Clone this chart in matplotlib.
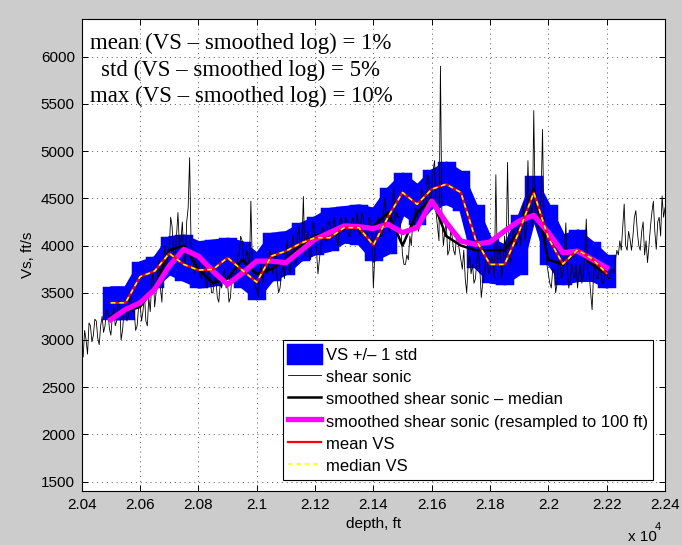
import numpy as np
import matplotlib
matplotlib.use("Agg")
import matplotlib.pyplot as plt

# raw shear sonic log, every 5 ft from 20400 to 22400
depth_log = np.arange(20400, 22401, 5)
vs_log = [
    2950, 2820, 3100, 3000, 2850, 3180, 3150, 2980, 3050, 3220,
    3200, 3020, 2950, 3150, 3250, 3080, 3150, 3320, 3300, 3120,
    3050, 3250, 3350, 3150, 3200, 3420, 3400, 3000, 3100, 3300,
    3350, 3200, 3250, 3500, 3450, 3300, 3300, 3100, 3150, 3350,
    3400, 3200, 3300, 3500, 3200, 3150, 3450, 3300, 3600, 3750,
    3350, 3500, 3700, 3850, 3550, 3400, 3850, 4000, 3700, 3900,
    3950, 4300, 4200, 3850, 3800, 4100, 4350, 4000, 4050, 4250,
    3900, 3800, 4250, 4400, 4930, 4000, 3950, 3700, 3800, 3900,
    3900, 3700, 3650, 3850, 3800, 3600, 3550, 3750, 3700, 3500,
    3500, 3650, 3650, 3450, 3400, 3600, 3550, 3700, 3750, 3550,
    3600, 3400, 3450, 3700, 3750, 3600, 3700, 3900, 3900, 4100,
    4050, 3850, 3800, 3950, 3900, 3750, 4470, 3800, 3700, 3550,
    3550, 3450, 3700, 3800, 3600, 3750, 3850, 3700, 3750, 3950,
    3900, 3700, 3800, 3950, 3650, 3500, 3550, 3700, 3800, 3650,
    3900, 4050, 3750, 3700, 4000, 4100, 3850, 3800, 4100, 4200,
    3950, 4000, 4520, 3900, 4050, 4150, 3900, 3850, 4150, 4250,
    4100, 3950, 3700, 3850, 4000, 4200, 4150, 4050, 4050, 4250,
    4250, 4100, 4100, 4300, 4200, 4050, 4000, 4250, 4300, 4150,
    4150, 4300, 4250, 4100, 4100, 4250, 4300, 4150, 4200, 4350,
    4150, 4100, 4350, 4300, 4200, 4050, 4100, 4300, 4250, 4150,
    3550, 3900, 4150, 4300, 4250, 4100, 4100, 4350, 4500, 4300,
    4300, 4150, 4200, 4450, 4600, 4250, 4350, 4300, 4300, 4150,
    3900, 3800, 3800, 3900, 3850, 4100, 4000, 4250, 4200, 4400,
    4350, 4150, 4250, 4600, 4550, 4300, 4450, 4750, 4700, 4400,
    4600, 4800, 4900, 4350, 4200, 4050, 5900, 4300, 4000, 4150,
    4250, 3900, 3950, 4150, 4100, 3950, 3900, 4100, 4050, 3950,
    3850, 3750, 3950, 3650, 3500, 3800, 3900, 3700, 3800, 3600,
    3650, 3850, 3950, 3750, 3450, 3600, 3700, 3850, 3900, 3700,
    3750, 3900, 3850, 3650, 4750, 3800, 3900, 4000, 3650, 3800,
    4100, 3850, 4880, 4000, 3800, 3950, 4200, 4050, 4000, 4200,
    4150, 4000, 4300, 4450, 4050, 4200, 4900, 4300, 4400, 4200,
    5430, 4350, 4300, 4150, 4350, 4500, 5230, 4200, 4100, 3800,
    3700, 3600, 3550, 3750, 3750, 3500, 3600, 3800, 3850, 3650,
    3700, 3900, 4240, 3750, 3550, 3650, 3800, 3700, 3650, 3800,
    3550, 3700, 3800, 3600, 3700, 3900, 4280, 3750, 3700, 3500,
    3320, 3700, 3850, 3650, 3650, 3800, 3750, 3600, 3600, 3750,
    3700, 3650, 3650, 3750, 3750, 3700, 3850, 3950, 3900, 4050,
    3950, 4200, 4440, 4000, 3950, 4150, 4070, 3950, 4100, 4300,
    4370, 4150, 4000, 3950, 4150, 4250, 3900, 4050, 3820, 4000,
    4200, 4350, 4470, 4150, 3960, 4250, 4300, 4100, 4525, 4300,
    4400,
]

# VS samples and smoothed curves, every 50 ft from 20500 to 22200
depth_vs = np.arange(20500, 22201, 50)
vs_med = [
    3250, 3300, 3350, 3550, 3950, 4000, 3750, 3600, 3650, 3850,
    3700, 3750, 3850, 4000, 4100, 4150, 4200, 4200, 4200, 4350,
    4000, 4350, 4500, 4100, 4000, 3950, 3950, 3950, 4150, 4600,
    3850, 3800, 3950, 3800, 3700,
]
vs_resampled = [
    3216, 3322, 3393, 3535, 3782, 3959, 3888, 3729, 3588, 3705,
    3835, 3835, 3818, 3941, 4066, 4137, 4207, 4200, 4180, 4225,
    4137, 4190, 4472, 4243, 4048, 4013, 4037, 4154, 4260, 4320,
    4137, 3924, 3941, 3853, 3765,
]
mean_vs = [
    3393, 3393, 3670, 3729, 3917, 3800, 3740, 3747, 3871, 3740,
    3612, 3888, 3941, 4023, 4083, 4083, 4190, 4190, 4005, 4300,
    4562, 4437, 4597, 4650, 4562, 4070, 3800, 3800, 4150, 4562,
    4080, 3805, 3955, 3860, 3705,
]
median_vs = [
    3393, 3393, 3670, 3729, 3917, 3800, 3740, 3747, 3871, 3740,
    3612, 3888, 3941, 4023, 4083, 4083, 4190, 4190, 4005, 4300,
    4562, 4437, 4597, 4650, 4562, 4070, 3800, 3800, 4150, 4562,
    4080, 3805, 3955, 3860, 3705,
]
band_upper = [
    3552, 3552, 3818, 3871, 4084, 4100, 4030, 4048, 4066, 4030,
    3906, 4119, 4137, 4225, 4296, 4384, 4402, 4420, 4384, 4600,
    4756, 4632, 4791, 4873, 4774, 4420, 4066, 3995, 4313, 4721,
    4420, 4100, 4154, 4030, 3888,
]
band_lower = [
    3237, 3237, 3463, 3570, 3712, 3641, 3570, 3588, 3676, 3570,
    3446, 3641, 3712, 3853, 3924, 3959, 4048, 4030, 3853, 3928,
    4349, 4243, 4420, 4455, 4384, 3782, 3623, 3606, 3712, 4313,
    3818, 3606, 3641, 3641, 3570,
]

x_ticks = np.arange(20400, 22401, 200)
y_ticks = np.arange(1500, 6001, 500)

stats_text = ("mean (VS \u2013 smoothed log) = 1%\n"
              "std (VS \u2013 smoothed log) = 5%\n"
              "max (VS \u2013 smoothed log) = 10%")

sans = ["Liberation Sans", "DejaVu Sans"]
plt.rcParams["font.family"] = sans

fig = plt.figure(figsize=(6.82, 5.45), dpi=100, facecolor="#cccccc")
ax = fig.add_axes([0.1198, 0.0991, 0.8553, 0.8661])
ax.set_facecolor("white")

# +/- 1 std band: blocks per sample joined by a filled envelope
lower = np.array(band_lower)
upper = np.array(band_upper)
h_band = ax.bar(depth_vs, upper - lower, bottom=lower, width=50,
                color="#0000ff", edgecolor="#0000ff", linewidth=2.5,
                label="VS +/\u2013 1 std", zorder=2)
ax.fill_between(depth_vs, lower, upper, color="#0000ff", edgecolor="#0000ff",
                linewidth=3, zorder=2)

h_log, = ax.plot(depth_log, vs_log, color="black", linewidth=0.6,
                 label="shear sonic", zorder=3)
h_med, = ax.plot(depth_vs, vs_med, color="black", linewidth=1.8,
                 label="smoothed shear sonic \u2013 median", zorder=4)
h_res, = ax.plot(depth_vs, vs_resampled, color="#ff00ff", linewidth=3.8,
                 label="smoothed shear sonic (resampled to 100 ft)", zorder=5)
h_mean, = ax.plot(depth_vs, mean_vs, color="red", linewidth=1.6,
                  label="mean VS", zorder=6)
h_mdn, = ax.plot(depth_vs, median_vs, color="yellow", linewidth=1.1,
                 linestyle=(0, (3, 2.5)), label="median VS", zorder=7)

ax.set_xlim(20400, 22400)
ax.set_ylim(1400, 6400)
ax.set_xticks(x_ticks)
ax.set_xticklabels([f"{t / 1e4:g}" for t in x_ticks])
ax.set_yticks(y_ticks)
ax.tick_params(direction="in", length=4, width=0.7, top=True, right=True,
               labelsize=11, pad=5)
ax.grid(True, color="0.35", linestyle=(0, (1, 4)), linewidth=0.7)
for s in ax.spines.values():
    s.set_linewidth(0.8)

ax.set_xlabel("depth, ft", fontsize=11, labelpad=4)
ax.set_ylabel("Vs, ft/s", fontsize=11)
ax.yaxis.set_label_coords(-0.08, 0.5)

fig.text(628 / 682, 1 - 541 / 545, "x 10", fontsize=11)
fig.text(655 / 682, 1 - 530 / 545, "4", fontsize=8)

ax.text(0.273, 0.892, stats_text, transform=ax.transAxes, ha="center",
        va="center", multialignment="center", linespacing=1.33,
        fontsize=16.5, family=["Liberation Serif", "DejaVu Serif"], zorder=10)

leg = ax.legend(handles=[h_band, h_log, h_med, h_res, h_mean, h_mdn],
                loc="lower right", bbox_to_anchor=(0.9794, 0.0233),
                fontsize=12, frameon=True, fancybox=False, framealpha=1,
                edgecolor="black", handlelength=2.0, handleheight=1.3,
                handletextpad=0.3, labelspacing=0.25, borderpad=0.3,
                borderaxespad=0)
leg.get_frame().set_linewidth(0.8)
leg.set_zorder(20)

fig.savefig("out.png", dpi=100, facecolor=fig.get_facecolor())
